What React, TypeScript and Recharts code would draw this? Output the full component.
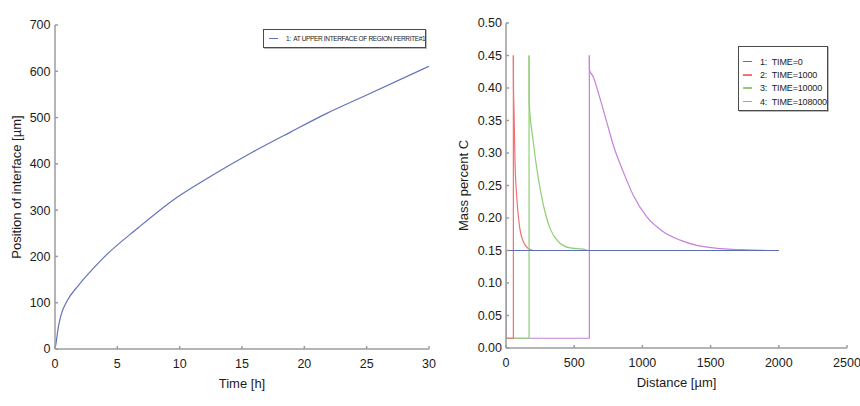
import React from 'react';
import { LineChart, Line, XAxis, YAxis, Legend } from 'recharts';

const FONT = '"Liberation Sans", Arial, Helvetica, sans-serif';
const AXIS = '#9c9c9c';
const TEXT = '#1c1c1c';

// ---------- Left chart: interface position vs time ----------
const timeHours = [0, 0.08, 0.27, 0.5, 0.93, 1.9, 3.07, 3.88, 6.68, 9.49, 12.43, 15.9, 18.85, 21.8, 24.7, 30];
const interfacePosition = [0, 12, 48, 75, 102, 138, 174, 197, 262, 322, 372, 426, 468, 509, 545, 611];
const timeTicks = [0, 5, 10, 15, 20, 25, 30];
const positionTicks = [0, 100, 200, 300, 400, 500, 600, 700];
const leftLegendLabel = '1:  AT UPPER INTERFACE OF REGION FERRITE#1';
const leftColor = '#6373b9';

// ---------- Right chart: carbon profiles ----------
const distanceTicks = [0, 500, 1000, 1500, 2000, 2500];
const massTicks = [0, 0.05, 0.1, 0.15, 0.2, 0.25, 0.3, 0.35, 0.4, 0.45, 0.5];

const time0Distance = [0, 0, 2000];
const time0Mass = [0.015, 0.15, 0.15];

const time1000Distance = [0, 54, 54, 55, 59, 66, 78, 98, 127, 164, 200, 2000];
const time1000Mass = [0.015, 0.015, 0.45, 0.4, 0.364, 0.287, 0.235, 0.189, 0.1635, 0.153, 0.15, 0.15];

const time10000Distance = [0, 169, 169, 170, 200, 237, 274, 323, 384, 469, 567, 603, 2000];
const time10000Mass = [0.015, 0.015, 0.45, 0.379, 0.317, 0.261, 0.22, 0.184, 0.1635, 0.154, 0.152, 0.15, 0.15];

const time108000Distance = [0, 611, 611, 612, 640, 689, 738, 787, 860, 933, 1031, 1153, 1276, 1398, 1569, 1765, 2000];
const time108000Mass = [0.015, 0.015, 0.45, 0.428, 0.417, 0.384, 0.348, 0.312, 0.271, 0.235, 0.202, 0.179, 0.166, 0.158, 0.153, 0.151, 0.15];

const seriesNames = ['1:  TIME=0', '2:  TIME=1000', '3:  TIME=10000', '4:  TIME=108000'];
const seriesColors = ['#5f6db5', '#f07272', '#90cf74', '#c482d8'];

const zip = (xs: number[], ys: number[]) => xs.map((x, i) => ({ x, y: ys[i] }));

const leftData = timeHours.map((t, i) => ({ t, pos: interfacePosition[i] }));
const rightSeries = [
  zip(time0Distance, time0Mass),
  zip(time1000Distance, time1000Mass),
  zip(time10000Distance, time10000Mass),
  zip(time108000Distance, time108000Mass),
];
// step part (vertical jump at the interface) and smooth diffusion tail
const stepPart = (s: { x: number; y: number }[], i: number) => (i === 0 ? s : s.slice(0, 3));
const tailPart = (s: { x: number; y: number }[]) => s.slice(2);

const tickStyle = { fill: TEXT, fontSize: 12.5, fontFamily: FONT };
const labelStyle = { fill: TEXT, fontSize: 13, fontFamily: FONT };

const LeftLegend = () => (
  <div
    style={{
      width: 163,
      height: 19,
      boxSizing: 'border-box',
      border: '1px solid #4a4a4a',
      boxShadow: '1px 1px 0 #bbb',
      background: '#fff',
      display: 'flex',
      alignItems: 'center',
      fontFamily: FONT,
      fontSize: 6.5,
      letterSpacing: -0.35,
      color: TEXT,
      whiteSpace: 'nowrap',
    }}
  >
    <span style={{ display: 'inline-block', flexShrink: 0, width: 9, height: 1.5, background: leftColor, marginLeft: 5, marginRight: 8 }} />
    <span style={{ whiteSpace: 'pre' }}>{leftLegendLabel}</span>
  </div>
);

const RightLegend = () => (
  <div
    style={{
      width: 90,
      height: 65,
      boxSizing: 'border-box',
      border: '1px solid #4a4a4a',
      boxShadow: '1px 1px 0 #bbb',
      background: '#fff',
      paddingTop: 8,
      fontFamily: FONT,
      fontSize: 9,
      letterSpacing: -0.15,
      color: TEXT,
    }}
  >
    {seriesNames.map((name, i) => (
      <div key={name} style={{ display: 'flex', alignItems: 'center', height: 13.3 }}>
        <span style={{ display: 'inline-block', flexShrink: 0, width: 9, height: 1.5, background: seriesColors[i], marginLeft: 4, marginRight: 8 }} />
        <span style={{ whiteSpace: 'pre' }}>{name}</span>
      </div>
    ))}
  </div>
);

export default function App() {
  return (
    <div style={{ position: 'absolute', left: 0, top: 0, width: 860, height: 406, background: '#fff', fontFamily: FONT, overflow: 'hidden' }}>
      <div style={{ position: 'absolute', left: 0, top: 0 }}>
        <LineChart width={440} height={406} data={leftData} margin={{ top: 25, right: 11, bottom: 17, left: 0 }}>
          <XAxis
            dataKey="t"
            type="number"
            domain={[0, 30]}
            ticks={timeTicks}
            interval={0}
            height={40}
            stroke={AXIS}
            strokeWidth={1.5}
            tick={tickStyle}
            tickSize={-3}
            tickMargin={13}
            label={{ value: 'Time [h]', position: 'insideBottom', offset: 1, style: labelStyle }}
          />
          <XAxis xAxisId="top" orientation="top" type="number" domain={[0, 30]} height={0} tick={false} tickLine={false} stroke={AXIS} strokeWidth={1.5} />
          <YAxis
            type="number"
            domain={[0, 700]}
            ticks={positionTicks}
            interval={0}
            width={55}
            stroke={AXIS}
            strokeWidth={1.5}
            tick={tickStyle}
            tickSize={-3}
            tickMargin={7.5}
            label={{ value: 'Position of interface [µm]', angle: -90, position: 'insideLeft', offset: 16, style: { ...labelStyle, textAnchor: 'middle' } }}
          />
          <YAxis yAxisId="right" orientation="right" type="number" domain={[0, 700]} width={0} tick={false} tickLine={false} stroke={AXIS} strokeWidth={1.5} />
          <Line type="monotone" dataKey="pos" stroke={leftColor} strokeWidth={1.2} dot={false} isAnimationActive={false} />
          <Legend layout="vertical" align="center" verticalAlign="middle" wrapperStyle={{ left: 263, top: 29, width: 163, height: 19 }} content={() => <LeftLegend />} />
        </LineChart>
      </div>
      <div style={{ position: 'absolute', left: 440, top: 0 }}>
        <LineChart width={420} height={406} margin={{ top: 23, right: 13, bottom: 18, left: 0 }}>
          <XAxis
            dataKey="x"
            type="number"
            domain={[0, 2500]}
            ticks={distanceTicks}
            interval={0}
            height={40}
            stroke={AXIS}
            strokeWidth={1.5}
            tick={tickStyle}
            tickSize={-3}
            tickMargin={13}
            allowDataOverflow
            label={{ value: 'Distance [µm]', position: 'insideBottom', offset: 1, style: labelStyle }}
          />
          <XAxis xAxisId="top" orientation="top" type="number" domain={[0, 2500]} height={0} tick={false} tickLine={false} stroke={AXIS} strokeWidth={1.5} />
          <YAxis
            type="number"
            domain={[0, 0.5]}
            ticks={massTicks}
            interval={0}
            width={66}
            stroke={AXIS}
            strokeWidth={1.5}
            tick={tickStyle}
            tickSize={-3}
            tickMargin={7}
            tickFormatter={(v: number) => v.toFixed(2)}
            label={{ value: 'Mass percent C', angle: -90, position: 'insideLeft', offset: 23, style: { ...labelStyle, textAnchor: 'middle' } }}
          />
          <YAxis yAxisId="right" orientation="right" type="number" domain={[0, 0.5]} width={0} tick={false} tickLine={false} stroke={AXIS} strokeWidth={1.5} />
          {[3, 2, 1].map((i) => (
            <Line
              key={'tail' + i}
              data={tailPart(rightSeries[i])}
              dataKey="y"
              name={seriesNames[i]}
              type="monotone"
              stroke={seriesColors[i]}
              strokeWidth={1.2}
              dot={false}
              isAnimationActive={false}
            />
          ))}
          {[3, 2, 1, 0].map((i) => (
            <Line
              key={'step' + i}
              data={stepPart(rightSeries[i], i)}
              dataKey="y"
              name={seriesNames[i]}
              type="linear"
              stroke={seriesColors[i]}
              strokeWidth={1.2}
              dot={false}
              isAnimationActive={false}
            />
          ))}
          <Legend layout="vertical" align="center" verticalAlign="middle" wrapperStyle={{ left: 298, top: 46, width: 90, height: 65 }} content={() => <RightLegend />} />
        </LineChart>
      </div>
    </div>
  );
}
